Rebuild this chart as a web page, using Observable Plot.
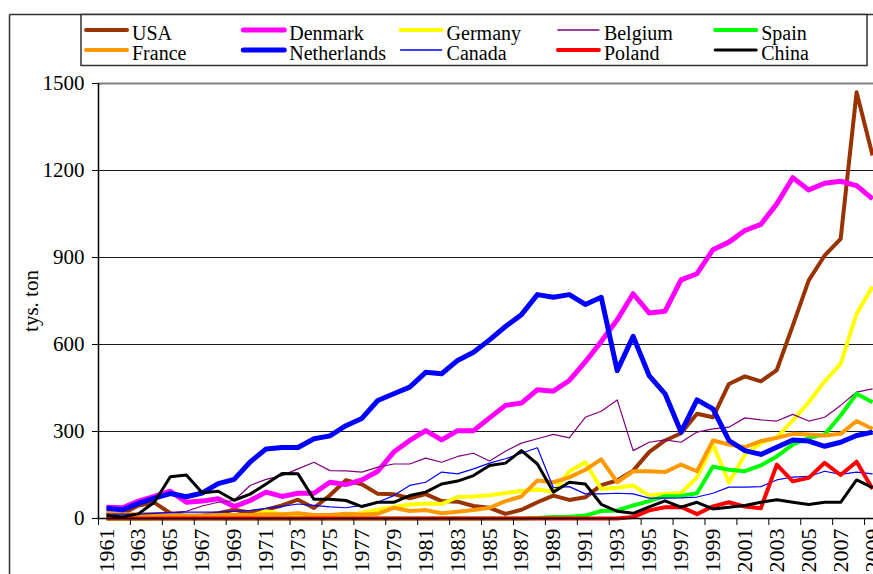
<!DOCTYPE html>
<html><head><meta charset="utf-8">
<script src="https://cdn.jsdelivr.net/npm/d3@7"></script>
<script src="https://cdn.jsdelivr.net/npm/@observablehq/plot@0.6"></script>
<style>
html,body{margin:0;padding:0;background:#fff;overflow:hidden;}
#wrap{position:relative;width:873px;height:574px;overflow:hidden;background:#fff;}
#wrap svg{position:absolute;left:0;top:0;}
</style></head><body><div id="wrap"></div>
<script>
const years = [1961,1962,1963,1964,1965,1966,1967,1968,1969,1970,1971,1972,1973,1974,1975,1976,1977,1978,1979,1980,1981,1982,1983,1984,1985,1986,1987,1988,1989,1990,1991,1992,1993,1994,1995,1996,1997,1998,1999,2000,2001,2002,2003,2004,2005,2006,2007,2008,2009];

const usa = [18,16,45,55,18,8,10,18,30,20,30,45,65,36,80,132,118,85,84,70,84,60,58,43,37,16,30,56,79,64,73,115,131,165,229,269,294,361,349,464,490,473,512,665,821,907,964,1470,1252];
const denmark = [39,37,60,76,94,56,60,68,41,62,91,76,87,87,125,117,133,163,229,269,303,271,303,303,347,390,398,444,439,476,540,610,685,775,709,715,823,844,927,953,993,1014,1085,1175,1133,1156,1163,1148,1102];
const germany = [0,0,0,2,2,3,3,4,5,8,25,15,10,8,6,5,20,30,40,48,52,50,74,76,80,88,95,100,92,162,194,102,106,114,79,85,88,142,255,124,220,260,280,338,401,473,533,706,800];
const belgium = [15,15,18,20,20,25,43,56,62,114,135,148,171,194,165,164,160,177,188,188,208,194,214,225,198,232,260,275,290,278,349,370,409,234,263,271,263,298,309,315,347,340,336,359,336,349,390,436,447];
const spain = [0,0,0,0,0,0,0,0,0,0,0,0,0,0,0,0,0,0,0,0,0,0,0,0,0,0,0,2,5,6,10,26,28,45,60,77,78,87,179,168,163,183,214,255,278,290,355,430,401];
const france = [18,15,15,15,12,10,10,12,12,12,15,15,18,12,12,16,14,16,37,26,29,18,23,29,37,60,76,131,125,142,168,204,125,163,163,160,186,163,269,255,246,267,278,292,290,286,292,336,309];
const netherlands = [35,30,52,70,86,75,88,120,135,195,240,245,245,275,285,320,345,407,430,453,504,499,545,573,616,662,703,772,763,772,738,763,510,628,493,430,298,409,378,269,234,221,246,271,267,249,263,286,298];
const canada = [15,15,15,18,20,22,22,22,25,28,35,42,50,45,40,37,45,56,79,114,125,160,154,171,191,206,225,244,106,110,85,85,87,85,70,70,71,74,87,108,108,110,133,143,145,163,152,160,154];
const poland = [0,0,0,0,0,0,0,0,0,0,0,0,0,0,0,0,0,0,0,0,0,0,0,0,0,0,0,0,0,0,0,0,0,5,28,39,40,15,42,56,41,35,186,128,140,192,150,196,102];
const china = [10,5,16,56,144,150,89,94,63,84,119,155,154,66,66,62,41,56,56,79,91,119,129,148,183,191,234,188,91,125,119,49,25,18,40,61,39,56,33,39,45,56,65,56,48,56,56,133,106];

const names = ["USA","Denmark","Germany","Belgium","Spain","France","Netherlands","Canada","Poland","China"];
const valuesList = [usa, denmark, germany, belgium, spain, france, netherlands, canada, poland, china];
const yTicks = [0,300,600,900,1200,1500];

// styles
const colors = ["#993300","#FF00FF","#FFFF00","#800080","#00FF00","#FF9900","#0000FF","#0000FF","#FF0000","#000000"];
const widths = [4,5,4,1.2,4,4,5,1.2,4,3];

const oddYears = years.filter((y,i)=>i%2===0);
const boundaries = oddYears.map(y=>y-0.5);

const lineMarks = valuesList.map((vals,i)=>Plot.line(years,{x:years,y:vals,stroke:colors[i],strokeWidth:widths[i],strokeLinejoin:"round",strokeLinecap:"butt"}));

const plot = Plot.plot({
  width: 873, height: 574,
  marginLeft: 97, marginTop: 83, marginBottom: 56, marginRight: 0,
  x: {domain: [1960.5, 2010.5], range: [98, 896]},
  y: {domain: [0, 1500]},
  style: {fontFamily: "'Liberation Serif', 'Times New Roman', serif", background: "transparent", color:"#000"},
  marks: [
    Plot.ruleY(yTicks.filter(v=>v>0 && v<1500), {stroke:"#1a1a1a", strokeWidth:1.2}),
    Plot.ruleY([1500], {stroke:"#808080", strokeWidth:2}),
    ...lineMarks,
    Plot.ruleX([1960.5], {stroke:"#000", strokeWidth:1.5}),
    Plot.ruleY([0], {stroke:"#000", strokeWidth:1.5}),
    Plot.axisY(yTicks, {tickSize:5, tickPadding:8, fontSize:21, tickFormat:d=>String(d), label:"tys. ton", labelAnchor:"center", labelOffset:74, labelArrow:"none", stroke:"#000"}),
    Plot.axisX(boundaries, {tickSize:7, tickFormat:()=>"", stroke:"#000", label:null}),
    Plot.axisX(oddYears, {tickSize:0, tickPadding:10, tickRotate:-90, fontSize:22, tickFormat:d=>String(d), label:null})
  ]
});
plot.style.overflow = "hidden";
document.getElementById("wrap").appendChild(plot);

// legend + frame overlay
const ov = d3.select("#wrap").append("svg").attr("width",873).attr("height",574).style("pointer-events","none");
ov.append("line").attr("x1",9.5).attr("x2",873).attr("y1",14.5).attr("y2",14.5).attr("stroke","#333").attr("stroke-width",1.5);
ov.append("line").attr("x1",9.5).attr("x2",9.5).attr("y1",14.5).attr("y2",574).attr("stroke","#333").attr("stroke-width",1.5);
ov.append("rect").attr("x",81).attr("y",14.5).attr("width",786).attr("height",51).attr("fill","#fff").attr("stroke","#333").attr("stroke-width",1.5);
names.forEach((n,i)=>{
  const c = i%5, r = Math.floor(i/5);
  const x0 = 86 + 157.3*c;
  const ys = 30 + 20*r;
  ov.append("line").attr("x1",x0).attr("x2",x0+41).attr("y1",ys).attr("y2",ys)
    .attr("stroke",colors[i]).attr("stroke-width",Math.max(widths[i],1.5)).attr("stroke-linecap","round");
  ov.append("text").attr("x",x0+46).attr("y",39.5+20*r).text(n)
    .attr("font-family","'Liberation Serif', 'Times New Roman', serif").attr("font-size",20).attr("fill","#000");
});
</script></body></html>
